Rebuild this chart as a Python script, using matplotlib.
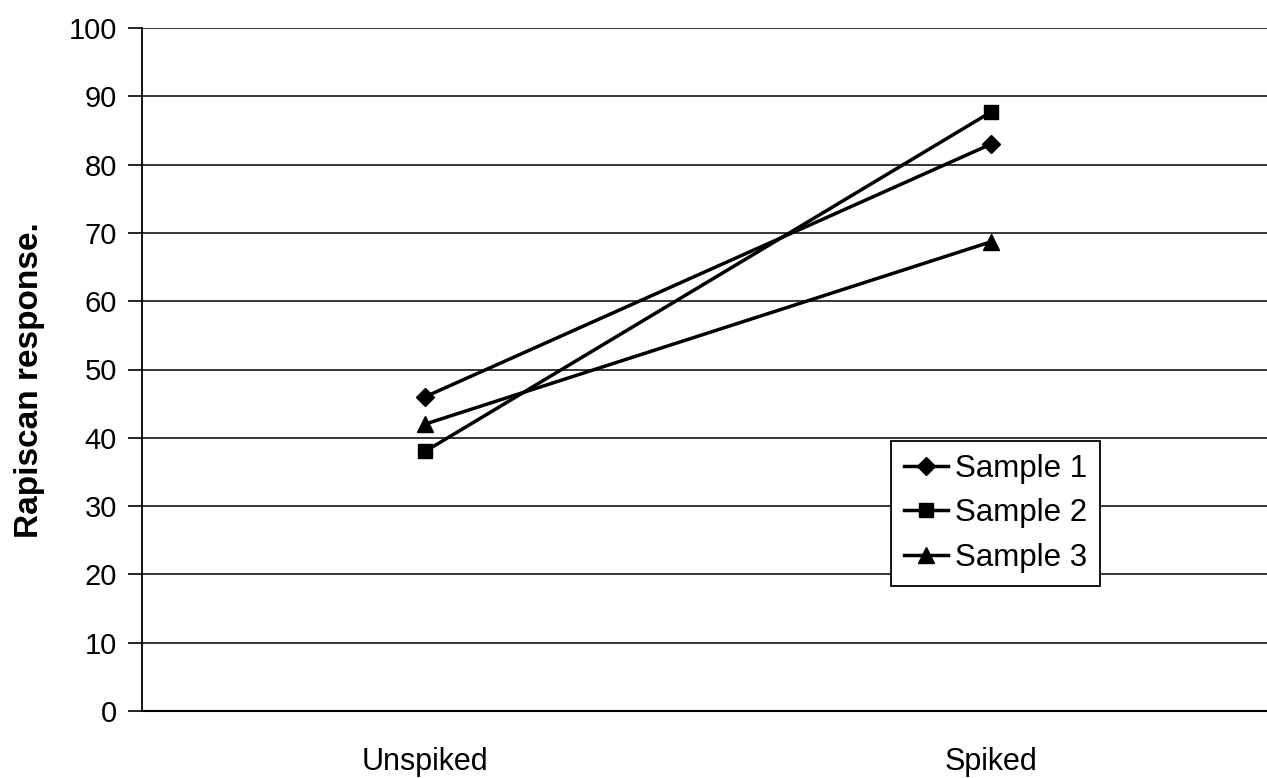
import matplotlib
matplotlib.use("Agg")
import matplotlib.pyplot as plt

categories = ["Unspiked", "Spiked"]
sample1 = [46, 83]
sample2 = [38, 87.7]
sample3 = [42, 68.7]
series_names = ["Sample 1", "Sample 2", "Sample 3"]

plt.rcParams["font.family"] = ["Liberation Sans", "DejaVu Sans"]

fig = plt.figure(figsize=(12.67, 7.78), dpi=100)
ax = fig.add_axes([142 / 1267, 67 / 778, 1132 / 1267, 683 / 778])

x = range(len(categories))
ax.plot(x, sample1, color="black", lw=2.5, marker="D", ms=9.5, label=series_names[0])
ax.plot(x, sample2, color="black", lw=2.5, marker="s", ms=10, label=series_names[1])
ax.plot(x, sample3, color="black", lw=2.5, marker="^", ms=11, label=series_names[2])

ax.set_xlim(-0.5, 1.5)
ax.set_ylim(0, 100)
ax.set_yticks(range(0, 101, 10))
ax.set_xticks(list(x))
ax.set_xticklabels(categories, fontsize=22)
ax.tick_params(axis="x", length=0, pad=26)
ax.tick_params(axis="y", labelsize=21, length=10, width=1.2, pad=8)
ax.yaxis.grid(True, color="black", lw=1.1)
ax.set_axisbelow(True)

for side in ["top", "right"]:
    ax.spines[side].set_visible(False)
ax.spines["left"].set_linewidth(1.3)
ax.spines["bottom"].set_linewidth(1.5)

ax.set_ylabel("Rapiscan response.", fontsize=24, fontweight="bold")
ax.yaxis.set_label_coords(-0.086, 0.485)

leg = ax.legend(loc="upper left", bbox_to_anchor=(0.662, 0.395), fontsize=22.5,
                frameon=True, fancybox=False, edgecolor="black", framealpha=1,
                borderaxespad=0, handlelength=1.4, handletextpad=0.25,
                borderpad=0.4, labelspacing=0.47)
leg.get_frame().set_linewidth(1.3)

fig.savefig("out.png", dpi=100)
